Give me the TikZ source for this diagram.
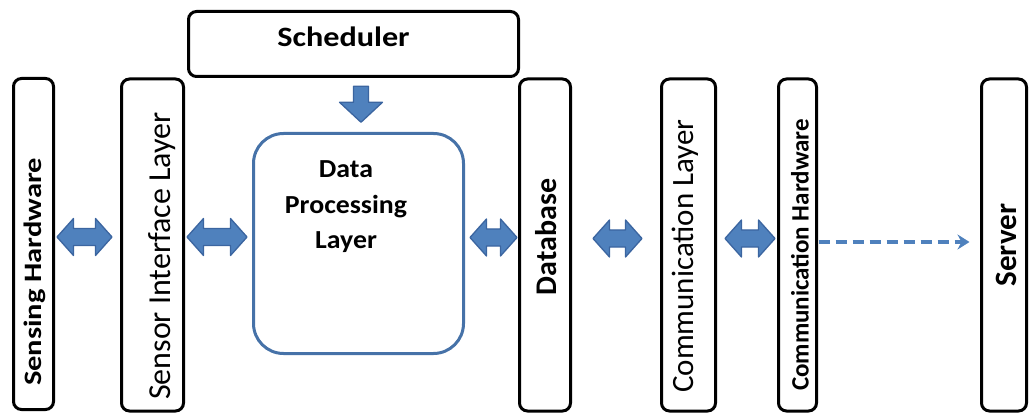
\documentclass[tikz,border=0pt]{standalone}
\usepackage{fontspec}
\setmainfont{Carlito}
\usetikzlibrary{arrows.meta, calc}

\definecolor{arrowfill}{HTML}{4F81BD}
\definecolor{arrowedge}{HTML}{3B65A0}
\definecolor{procblue}{HTML}{4672A8}

% two-headed block arrow: #1 centre, #2 half length
\newcommand\dblblock[2]{%
  \draw[blockarrow, shift={(#1)}]
    (-#2,0) -- (-#2+16.5,-18.5) -- (-#2+16.5,-8.5) -- (#2-16.5,-8.5)
    -- (#2-16.5,-18.5) -- (#2,0) -- (#2-16.5,18.5) -- (#2-16.5,8.5)
    -- (-#2+16.5,8.5) -- (-#2+16.5,18.5) -- cycle;}

\begin{document}
\begin{tikzpicture}[x=1pt, y=-1pt,
  layerbox/.style={draw=black, line width=3pt, rounded corners=8pt,
    inner sep=0pt, outer sep=0pt},
  boldlabel/.style={font=\fontsize{31}{37}\selectfont\bfseries, inner sep=0pt, rotate=90},
  plainlabel/.style={font=\fontsize{31}{37}\selectfont, inner sep=0pt, rotate=90},
  blockarrow/.style={fill=arrowfill, draw=arrowedge, line width=1.3pt, line join=round},
  dashlink/.style={draw=arrowfill, line width=3.2pt, dash pattern=on 11pt off 6pt,
    -{Stealth[length=12pt, width=15pt, inset=4pt]}}
]
\useasboundingbox (0,0) rectangle (1029,417);

% layer boxes
\node[layerbox, minimum width=40pt, minimum height=331pt] (sh)   at (33.5,244) {};
\node[layerbox, minimum width=62pt, minimum height=332pt] (sil)  at (152.5,245) {};
\node[layerbox, minimum width=330pt, minimum height=65pt] (sched) at (353.5,44) {};
\node[draw=procblue, line width=3pt, rounded corners=30pt, inner sep=0pt,
      minimum width=210pt, minimum height=220pt] (dp) at (358.5,243.5) {};
\node[layerbox, minimum width=51pt, minimum height=332pt] (db)   at (545,245) {};
\node[layerbox, minimum width=54pt, minimum height=332pt] (cl)   at (688.5,245) {};
\node[layerbox, minimum width=38pt, minimum height=332pt] (ch)   at (797.5,245) {};
\node[layerbox, minimum width=45pt, minimum height=332pt] (srv)  at (1004,245) {};

% labels
\node[boldlabel, font=\fontsize{25}{30}\selectfont\bfseries, xscale=1.22] at (35,272) {Sensing Hardware};
\node[plainlabel, font=\fontsize{32}{38}\selectfont] at (162,256) {Sensor Interface Layer};
\node[font=\fontsize{28}{34}\selectfont\bfseries, xscale=1.15, inner sep=0pt] at (343.5,37) {Scheduler};
\node[font=\fontsize{26}{35.5}\selectfont\bfseries, xscale=1.07, align=center, inner sep=0pt]
  at (346,207) {Data\\Processing\\Layer};
\node[boldlabel, font=\fontsize{30}{36}\selectfont\bfseries] at (546,237) {Database};
\node[plainlabel] at (685,256) {Communication Layer};
\node[boldlabel, font=\fontsize{25}{30}\selectfont\bfseries] at (800,255) {Communication Hardware};
\node[boldlabel] at (1006,245) {Server};

% block arrows between the layers
\coordinate (a1) at (84.5,237);
\coordinate (a2) at (217,237);
\coordinate (a3) at (493.5,237.5);
\coordinate (a4) at (617.5,238.5);
\coordinate (a5) at (750,238.5);
\dblblock{a1}{27.5}
\dblblock{a2}{30}
\dblblock{a3}{23.5}
\dblblock{a4}{24.5}
\dblblock{a5}{25}

% scheduler feeding the processing layer
\coordinate (dn) at ($(sched.south)!0.5!(dp.north)+(5,0)$);
\draw[blockarrow, shift={(dn)}]
  (-7.5,-18) -- (7.5,-18) -- (7.5,-2) -- (21.5,-2) -- (0,18)
  -- (-21.5,-2) -- (-7.5,-2) -- cycle;

% wireless link to the server
\draw[dashlink] ($(ch.east)+(2,-3)$) -- ($(srv.west)+(-12,-3)$);
\end{tikzpicture}
\end{document}
